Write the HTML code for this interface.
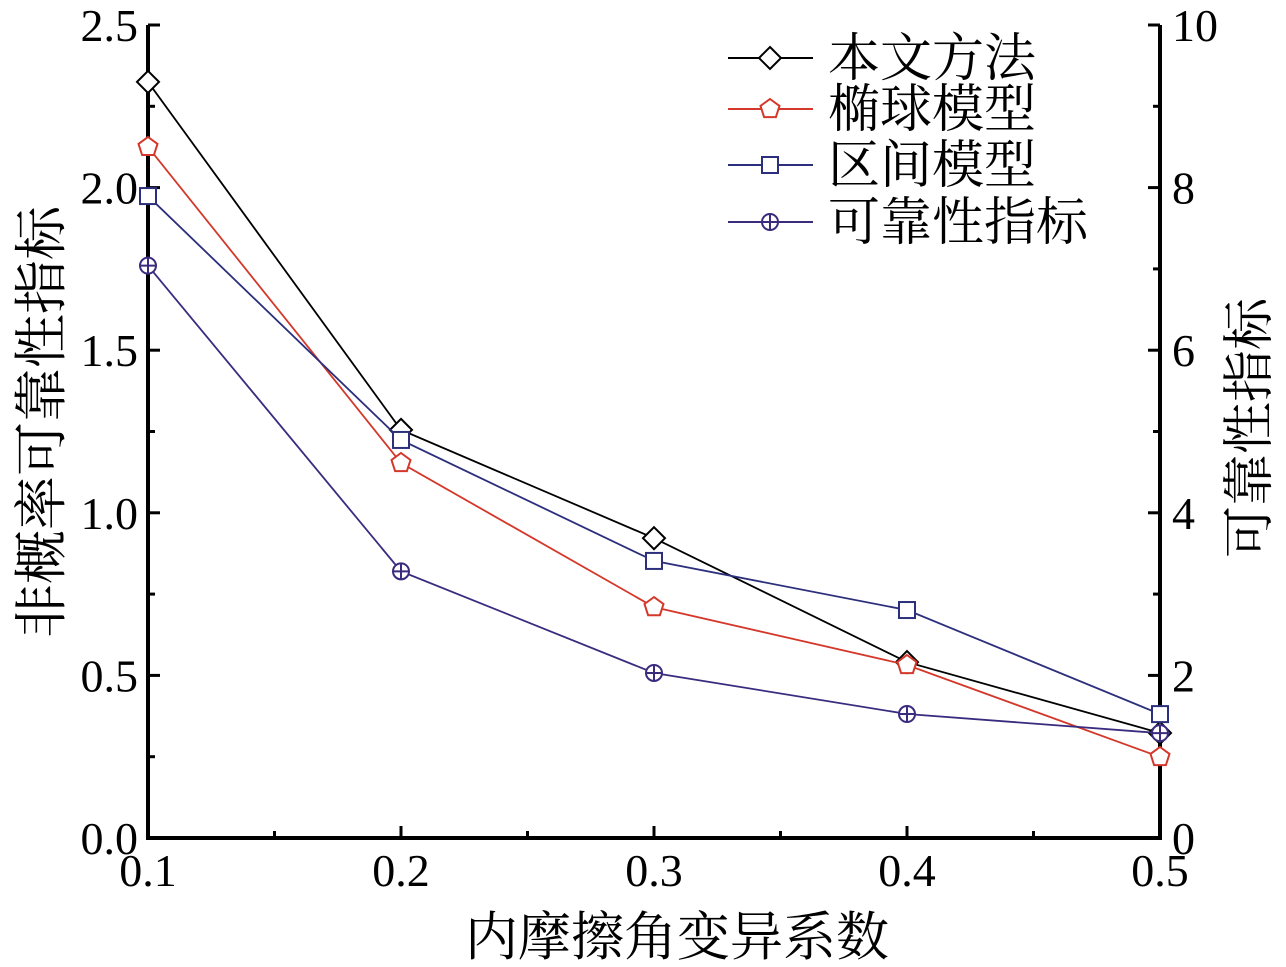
<!DOCTYPE html>
<html><head><meta charset="utf-8"><style>
html,body{margin:0;padding:0;background:#fff;}
svg{display:block;font-family:"Liberation Serif","Noto Serif CJK SC",serif;}
</style></head><body>
<svg id="chart" width="1286" height="967" viewBox="0 0 1286 967"></svg>
<script>
const categories=[0.1,0.2,0.3,0.4,0.5];
const seriesOurs=[2.325,1.255,0.922,0.541,0.323];
const seriesEllipsoid=[2.125,1.153,0.71,0.532,0.249];
const seriesInterval=[1.974,1.224,0.852,0.701,0.381];
const seriesReliability=[7.04,3.28,2.03,1.525,1.29];
const xTicks=["0.1","0.2","0.3","0.4","0.5"];
const yLeftTicks=["0.0","0.5","1.0","1.5","2.0","2.5"];
const yRightTicks=["0","2","4","6","8","10"];

const NS="http://www.w3.org/2000/svg";
const svg=document.getElementById('chart');
const X0=148,X1=1160,Y0=838,Y1=25;
const xs=v=>X0+(v-0.1)/0.4*(X1-X0);
const yl=v=>Y0-v/2.5*(Y0-Y1);
const yr=v=>Y0-v/10*(Y0-Y1);
function mk(t,a,p){const e=document.createElementNS(NS,t);for(const k in a)e.setAttribute(k,a[k]);(p||svg).appendChild(e);return e;}

let e;
e=mk('path',{d:`M${X0},${Y1} V${Y0} H${X1} V${Y1}`,fill:'none',stroke:'#000','stroke-width':4});



for(let i=0;i<xTicks.length;i++){
  const x=xs(categories[i]);
  e=mk('line',{x1:x,x2:x,y1:Y0,y2:Y0-12,stroke:'#000','stroke-width':3});
  
  
  if(i<xTicks.length-1){const xm=xs(categories[i]+0.05);
    e=mk('line',{x1:xm,x2:xm,y1:Y0,y2:Y0-7,stroke:'#000','stroke-width':3});
    
    }
  e=mk('text',{x:x,y:Y0+48,'text-anchor':'middle','font-size':46});
  e.textContent=xTicks[i];
  
  
}
for(let i=0;i<yLeftTicks.length;i++){
  const v=parseFloat(yLeftTicks[i]);const y=yl(v);
  e=mk('line',{x1:X0,x2:X0+12,y1:y,y2:y,stroke:'#000','stroke-width':3});
  
  
  if(i<yLeftTicks.length-1){const ym=yl(v+0.25);
    e=mk('line',{x1:X0,x2:X0+7,y1:ym,y2:ym,stroke:'#000','stroke-width':3});
    
    }
  e=mk('text',{x:X0-10,y:y+16,'text-anchor':'end','font-size':46});
  e.textContent=yLeftTicks[i];
  
  
}
for(let i=0;i<yRightTicks.length;i++){
  const v=parseFloat(yRightTicks[i]);const y=yr(v);
  e=mk('line',{x1:X1,x2:X1-12,y1:y,y2:y,stroke:'#000','stroke-width':3});
  
  
  if(i<yRightTicks.length-1){const ym=yr(v+1);
    e=mk('line',{x1:X1,x2:X1-7,y1:ym,y2:ym,stroke:'#000','stroke-width':3});
    
    }
  e=mk('text',{x:X1+12,y:y+16,'text-anchor':'start','font-size':46});
  e.textContent=yRightTicks[i];
  
  
}
e=mk('text',{x:677,y:955,'text-anchor':'middle','font-size':53});
e.textContent='内摩擦角变异系数';


e=mk('text',{x:0,y:0,'text-anchor':'middle','font-size':54,transform:'translate(60,422) rotate(-90)'});
e.textContent='非概率可靠性指标';


e=mk('text',{x:0,y:0,'text-anchor':'middle','font-size':52,transform:'translate(1267,428) rotate(-90)'});
e.textContent='可靠性指标';



function marker(type,x,y,color,g){
  const s=9;
  if(type==='diamond')return mk('path',{d:`M${x},${y-s-2} L${x+s+2},${y} L${x},${y+s+2} L${x-s-2},${y} Z`,fill:'#fff',stroke:color,'stroke-width':2},g);
  if(type==='pentagon'){let p=[];for(let k=0;k<5;k++){const a=-Math.PI/2+k*2*Math.PI/5;p.push((x+10*Math.cos(a)).toFixed(1)+','+(y+10*Math.sin(a)).toFixed(1));}
    return mk('polygon',{points:p.join(' '),fill:'#fff',stroke:color,'stroke-width':2},g);}
  if(type==='square')return mk('rect',{x:x-8,y:y-8,width:16,height:16,fill:'#fff',stroke:color,'stroke-width':2},g);
  const gg=mk('g',{},g);
  mk('circle',{cx:x,cy:y,r:8,fill:'#fff',stroke:color,'stroke-width':2},gg);
  mk('path',{d:`M${x-8},${y} H${x+8} M${x},${y-8} V${y+8}`,stroke:color,'stroke-width':2},gg);
  return gg;
}
const series=[
  {name:'series-ours',vals:seriesOurs,sc:yl,color:'#000',m:'diamond',label:'本文方法'},
  {name:'series-ellipsoid',vals:seriesEllipsoid,sc:yl,color:'#d4382a',m:'pentagon',label:'椭球模型'},
  {name:'series-interval',vals:seriesInterval,sc:yl,color:'#2c2f7c',m:'square',label:'区间模型'},
  {name:'series-reliability',vals:seriesReliability,sc:yr,color:'#3b2b7e',m:'cross',label:'可靠性指标'}
];
const legY=[58,109,165,222];
series.forEach((s,si)=>{
  const g=mk('g',{});
  
  
  const pts=s.vals.map((v,i)=>[xs(categories[i]),s.sc(v)]);
  e=mk('polyline',{points:pts.map(p=>p.join(',')).join(' '),fill:'none',stroke:s.color,'stroke-width':1.8},g);
  
  
  pts.forEach(p=>{e=marker(s.m,p[0],p[1],s.color,g);
    
    });
  const lg=mk('g',{});
  
  
  const y=legY[si];
  mk('line',{x1:728,x2:813,y1:y,y2:y,stroke:s.color,'stroke-width':2},lg);
  marker(s.m,770,y,s.color,lg);
  const t=mk('text',{x:828,y:y+18,'font-size':52},lg);
  t.textContent=s.label;
});
</script>
</body></html>
